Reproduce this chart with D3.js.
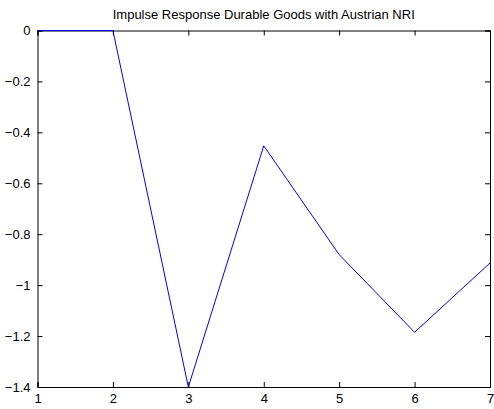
<!DOCTYPE html>
<html>
<head>
<meta charset="utf-8">
<script src="https://cdn.jsdelivr.net/npm/d3@7"></script>
<style>
  body { margin: 0; background: #fff; }
  svg text { font-family: "Liberation Sans", Arial, Helvetica, sans-serif; fill: #000; }
</style>
</head>
<body>
<div id="chart"></div>
<script>
// impulse response values by period
var periods = [1, 2, 3, 4, 5, 6, 7];
var response = [0, 0, -1.4, -0.453, -0.88, -1.185, -0.913];
var xTicks = [1, 2, 3, 4, 5, 6, 7];
var yTicks = [0, -0.2, -0.4, -0.6, -0.8, -1, -1.2, -1.4];
var title = "Impulse Response Durable Goods with Austrian NRI";

var width = 494, height = 409;
var margin = { left: 37.5, right: 4, top: 30.5, bottom: 22 };
var fontSize = 13;

var svg = d3.select("#chart").append("svg")
    .attr("width", width)
    .attr("height", height);

var x = d3.scaleLinear().domain([1, 7]).range([margin.left, width - margin.right]);
var y = d3.scaleLinear().domain([-1.4, 0]).range([height - margin.bottom, margin.top]);

var fmt = function (d) { return d3.format("")(d).replace("-", "\u2212"); };

// bottom axis, ticks pointing inward
var xAxis = svg.append("g")
    .attr("transform", "translate(0," + y(-1.4) + ")")
    .call(d3.axisBottom(x).tickValues(xTicks).tickSize(-5).tickPadding(7).tickFormat(fmt));
var topAxis = svg.append("g")
    .attr("transform", "translate(0," + y(0) + ")")
    .call(d3.axisTop(x).tickValues(xTicks).tickSize(-5).tickFormat(""));
var yAxis = svg.append("g")
    .attr("transform", "translate(" + x(1) + ",0)")
    .call(d3.axisLeft(y).tickValues(yTicks).tickSize(-5).tickPadding(7).tickFormat(fmt));
var rightAxis = svg.append("g")
    .attr("transform", "translate(" + x(7) + ",0)")
    .call(d3.axisRight(y).tickValues(yTicks).tickSize(-5).tickFormat(""));

[xAxis, topAxis, yAxis, rightAxis].forEach(function (g) {
    g.select(".domain").attr("stroke", "#000").attr("stroke-width", 1);
    g.selectAll(".tick line").attr("stroke", "#000");
    g.selectAll("text").attr("font-size", fontSize).attr("font-family", "Liberation Sans, Arial, sans-serif");
});

var line = d3.line()
    .x(function (d, i) { return x(periods[i]); })
    .y(function (d) { return y(d); });

svg.append("path")
    .datum(response)
    .attr("fill", "none")
    .attr("stroke", "#0000ff")
    .attr("stroke-width", 1)
    .attr("d", line);

svg.append("text")
    .attr("x", (x(1) + x(7)) / 2)
    .attr("y", 19)
    .attr("text-anchor", "middle")
    .attr("font-size", fontSize)
    .text(title);
</script>
</body>
</html>
